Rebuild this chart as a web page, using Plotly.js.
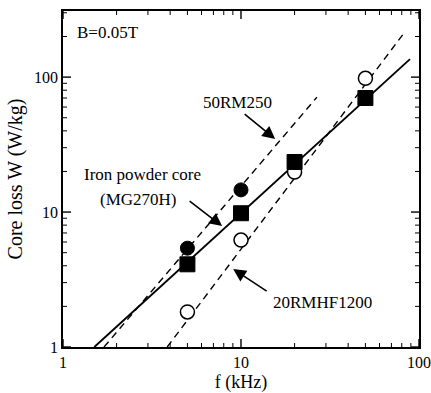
<!DOCTYPE html>
<html>
<head>
<meta charset="utf-8">
<script src="https://cdn.plot.ly/plotly-3.0.1.min.js"></script>
<style>html,body{margin:0;padding:0;background:#fff;}#chart{width:431px;height:393px;}</style>
</head>
<body>
<div id="chart"></div>
<script>
// Measured points (f in kHz, core loss in W/kg)
const freqRM250 = [5, 10];
const lossRM250 = [5.4, 14.6];
const freqMG270H = [5, 10, 20, 50];
const lossMG270H = [4.1, 9.8, 23.5, 70];
const freqRMHF = [5, 10, 20, 50];
const lossRMHF = [1.82, 6.2, 19.8, 98];

// Fitted lines (end points)
const lineRM250X = [1.7, 26.7];
const lineRM250Y = [1.0, 71];
const lineMG270HX = [1.5, 89];
const lineMG270HY = [1.0, 136];
const lineRMHFX = [3.85, 83];
const lineRMHFY = [1.0, 215];

const majorTicks = [1, 10, 100];
const xTickLabels = ['1', '10', '100'];
const yTickLabels = ['1', '10', '100'];
const minorTicks = [2, 3, 4, 5, 6, 7, 8, 9, 20, 30, 40, 50, 60, 70, 80, 90, 200, 300];

const FONT = 'Liberation Serif, Times New Roman, serif';

const xRange = [0, 2];
const yRange = [0, 2.49];
// plot area size in pixels (431-63-12, 393-11-46)
const plotW = 356, plotH = 336;
const pxPerDecX = plotW / (xRange[1] - xRange[0]);
const pxPerDecY = plotH / (yRange[1] - yRange[0]);

// Tick marks on all four sides as line segments through the axes' scales
function tickSegments(vals, lenPx) {
  const xs = [], ys = [];
  const dY = lenPx / pxPerDecY, dX = lenPx / pxPerDecX;
  vals.forEach(v => {
    const lv = Math.log10(v);
    if (lv >= xRange[0] && lv <= xRange[1]) {
      xs.push(v, v, null); ys.push(Math.pow(10, yRange[0]), Math.pow(10, yRange[0] + dY), null);
      xs.push(v, v, null); ys.push(Math.pow(10, yRange[1]), Math.pow(10, yRange[1] - dY), null);
    }
    if (lv >= yRange[0] && lv <= yRange[1]) {
      ys.push(v, v, null); xs.push(Math.pow(10, xRange[0]), Math.pow(10, xRange[0] + dX), null);
      ys.push(v, v, null); xs.push(Math.pow(10, xRange[1]), Math.pow(10, xRange[1] - dX), null);
    }
  });
  return {xs, ys};
}
const majorSeg = tickSegments(majorTicks, 8);
const minorSeg = tickSegments(minorTicks, 4);

const traces = [
  {x: majorSeg.xs, y: majorSeg.ys, mode: 'lines', line: {color: '#000', width: 1.4}, connectgaps: false, hoverinfo: 'skip'},
  {x: minorSeg.xs, y: minorSeg.ys, mode: 'lines', line: {color: '#000', width: 1.0}, connectgaps: false, hoverinfo: 'skip'},
  {x: lineRM250X, y: lineRM250Y, mode: 'lines', line: {color: '#000', width: 1.4, dash: '7px,5px'}, hoverinfo: 'skip'},
  {x: lineRMHFX, y: lineRMHFY, mode: 'lines', line: {color: '#000', width: 1.4, dash: '7px,5px'}, hoverinfo: 'skip'},
  {x: lineMG270HX, y: lineMG270HY, mode: 'lines', line: {color: '#000', width: 1.9}, hoverinfo: 'skip'},
  {x: freqRMHF, y: lossRMHF, mode: 'markers', marker: {symbol: 'circle', size: 14, color: '#fff', line: {color: '#000', width: 1.5}}},
  {x: freqRM250, y: lossRM250, mode: 'markers', marker: {symbol: 'circle', size: 14, color: '#000', line: {color: '#000', width: 1}}},
  {x: freqMG270H, y: lossMG270H, mode: 'markers', marker: {symbol: 'square', size: 15, color: '#000', line: {color: '#000', width: 1}}}
];

function axisBase(range, labels, titleText, titleSize) {
  return {
    type: 'log', range: range, ticks: '', mirror: true,
    showline: true, linewidth: 1.8, linecolor: '#000',
    showgrid: false, zeroline: false,
    tickmode: 'array', tickvals: majorTicks, ticktext: labels,
    tickfont: {family: FONT, size: 16, color: '#000'},
    title: {text: titleText, font: {family: FONT, size: titleSize, color: '#000'}, standoff: 6}
  };
}

function label(text, x, y, xanchor) {
  return {xref: 'paper', yref: 'paper', x: x, y: y, text: text, showarrow: false,
    xanchor: xanchor || 'center', yanchor: 'middle', font: {family: FONT, size: 17, color: '#000'}};
}
function arrow(x, y, ax, ay) {
  return {xref: 'paper', yref: 'paper', x: x, y: y, ax: ax, ay: ay, axref: 'pixel', ayref: 'pixel',
    text: '', showarrow: true, arrowhead: 2, arrowsize: 1.6, arrowwidth: 1.6, arrowcolor: '#000'};
}

const layout = {
  width: 431, height: 393,
  margin: {l: 63, r: 12, t: 11, b: 46},
  showlegend: false,
  xaxis: axisBase(xRange, xTickLabels, 'f (kHz)', 18),
  yaxis: axisBase(yRange, yTickLabels, 'Core loss W (W/kg)', 20),
  annotations: [
    label('B=0.05T', 0.034, 0.935, 'left'),
    label('50RM250', 0.489, 0.729),
    label('Iron powder core', 0.222, 0.512),
    label('(MG270H)', 0.213, 0.440),
    label('20RMHF1200', 0.728, 0.131),
    arrow(0.596, 0.619, -32, -26),
    arrow(0.447, 0.360, -34, -26),
    arrow(0.478, 0.232, 35, 23)
  ]
};

Plotly.newPlot('chart', traces, layout, {staticPlot: true});
</script>
</body>
</html>
